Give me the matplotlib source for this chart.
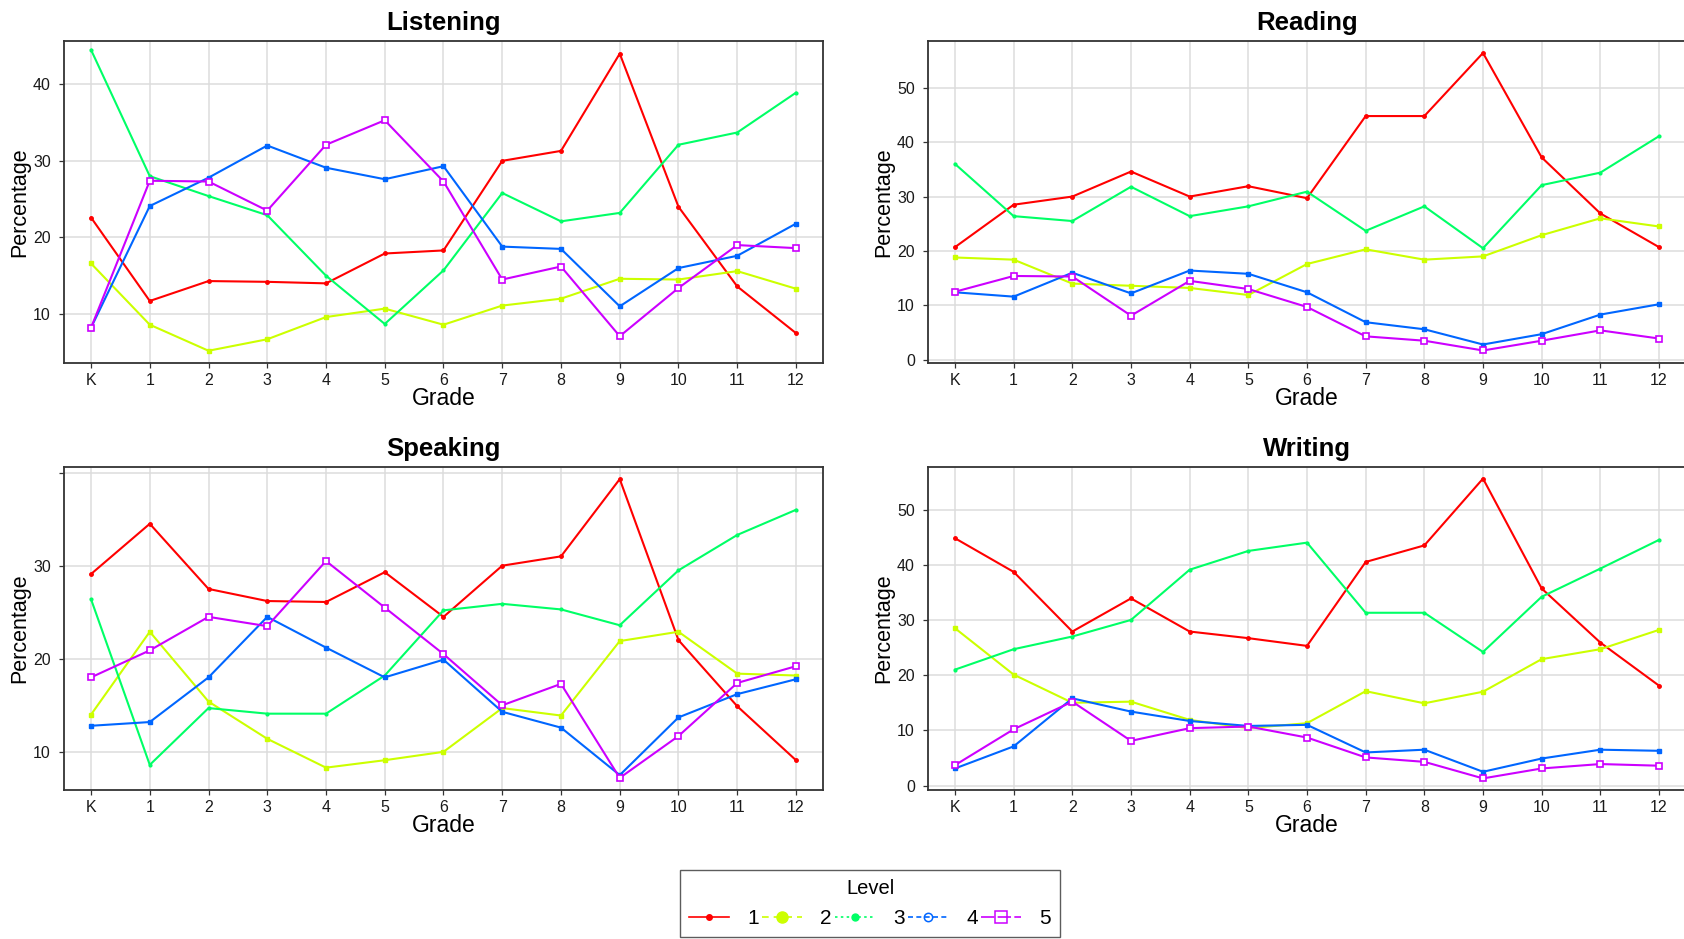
import matplotlib
matplotlib.use("Agg")
import matplotlib.pyplot as plt
from matplotlib.lines import Line2D

plt.rcParams['font.family'] = ['Liberation Sans', 'DejaVu Sans']

grades = ['K', '1', '2', '3', '4', '5', '6', '7', '8', '9', '10', '11', '12']
levels = ['1', '2', '3', '4', '5']
colors = ['#FF0000', '#CCFF00', '#00FF66', '#0066FF', '#CC00FF']

listening_l1 = [22.6, 11.7, 14.3, 14.2, 14.0, 17.9, 18.3, 30.0, 31.3, 44.0, 24.0, 13.6, 7.5]
listening_l2 = [16.6, 8.6, 5.2, 6.7, 9.6, 10.7, 8.6, 11.1, 12.0, 14.6, 14.5, 15.6, 13.3]
listening_l3 = [44.5, 28.0, 25.4, 22.9, 15.0, 8.7, 15.7, 25.8, 22.1, 23.2, 32.1, 33.7, 38.9]
listening_l4 = [8.2, 24.1, 27.8, 32.0, 29.1, 27.6, 29.3, 18.8, 18.5, 11.0, 16.0, 17.6, 21.8]
listening_l5 = [8.2, 27.4, 27.3, 23.5, 32.1, 35.3, 27.3, 14.5, 16.2, 7.1, 13.4, 19.0, 18.6]

reading_l1 = [20.7, 28.5, 30.0, 34.6, 30.0, 31.9, 29.7, 44.8, 44.8, 56.4, 37.2, 26.9, 20.7]
reading_l2 = [18.8, 18.4, 14.0, 13.6, 13.2, 11.9, 17.6, 20.3, 18.4, 19.0, 22.9, 26.0, 24.5]
reading_l3 = [36.0, 26.4, 25.5, 31.8, 26.4, 28.2, 30.9, 23.7, 28.2, 20.5, 32.1, 34.4, 41.1]
reading_l4 = [12.4, 11.6, 16.0, 12.2, 16.4, 15.8, 12.4, 6.9, 5.6, 2.8, 4.7, 8.3, 10.2]
reading_l5 = [12.5, 15.4, 15.3, 8.1, 14.5, 13.0, 9.7, 4.3, 3.5, 1.7, 3.5, 5.4, 3.9]

speaking_l1 = [29.1, 34.5, 27.5, 26.2, 26.1, 29.3, 24.5, 30.0, 31.0, 39.3, 22.0, 14.9, 9.1]
speaking_l2 = [14.0, 22.9, 15.4, 11.4, 8.3, 9.1, 10.0, 14.7, 13.9, 21.9, 22.9, 18.4, 18.2]
speaking_l3 = [26.4, 8.6, 14.7, 14.1, 14.1, 18.2, 25.2, 25.9, 25.3, 23.6, 29.5, 33.3, 36.0]
speaking_l4 = [12.8, 13.2, 18.0, 24.5, 21.2, 18.0, 19.9, 14.3, 12.6, 7.5, 13.7, 16.2, 17.8]
speaking_l5 = [18.0, 20.9, 24.5, 23.5, 30.5, 25.5, 20.5, 15.0, 17.3, 7.2, 11.7, 17.4, 19.2]

writing_l1 = [44.8, 38.7, 27.9, 33.9, 27.9, 26.7, 25.3, 40.5, 43.5, 55.6, 35.7, 25.9, 18.1]
writing_l2 = [28.5, 20.1, 15.0, 15.2, 11.9, 10.4, 11.3, 17.1, 14.9, 17.0, 22.9, 24.7, 28.2]
writing_l3 = [21.0, 24.7, 27.0, 30.0, 39.1, 42.5, 44.0, 31.3, 31.3, 24.2, 34.2, 39.3, 44.5]
writing_l4 = [3.1, 7.1, 15.8, 13.4, 11.7, 10.8, 11.0, 6.0, 6.5, 2.5, 4.9, 6.5, 6.3]
writing_l5 = [3.7, 10.2, 15.2, 8.1, 10.4, 10.7, 8.7, 5.1, 4.3, 1.3, 3.1, 3.9, 3.6]

panels = [
    ('Listening', [listening_l1, listening_l2, listening_l3, listening_l4, listening_l5],
     [10, 20, 30, 40], ['10', '20', '30', '40'], (3.6, 45.65)),
    ('Reading', [reading_l1, reading_l2, reading_l3, reading_l4, reading_l5],
     [0, 10, 20, 30, 40, 50], ['0', '10', '20', '30', '40', '50'], (-0.6, 58.6)),
    ('Speaking', [speaking_l1, speaking_l2, speaking_l3, speaking_l4, speaking_l5],
     [10, 20, 30, 40], ['10', '20', '30', ''], (5.9, 40.6)),
    ('Writing', [writing_l1, writing_l2, writing_l3, writing_l4, writing_l5],
     [0, 10, 20, 30, 40, 50], ['0', '10', '20', '30', '40', '50'], (-0.8, 57.7)),
]

W, H = 1684, 939
fig = plt.figure(figsize=(W / 100, H / 100), dpi=100)

# axes boxes in pixel coordinates (left, top, right, bottom)
boxes = [(64, 41, 823, 363), (928, 41, 1686, 363),
         (64, 467, 823, 790), (928, 467, 1686, 790)]

# in-plot marker styles
pmark = [dict(marker='.', ms=5, mfc=colors[0], mec=colors[0]),
         dict(marker='s', ms=3, mfc=colors[1], mec=colors[1]),
         dict(marker='.', ms=4, mfc=colors[2], mec=colors[2]),
         dict(marker='s', ms=3.5, mfc=colors[3], mec=colors[3]),
         dict(marker='s', ms=5, mfc='white', mec=colors[4], mew=1.2)]

x = list(range(len(grades)))
for (title, series, yt, ytl, ylim), (l, t, r, b) in zip(panels, boxes):
    ax = fig.add_axes([l / W, 1 - b / H, (r - l) / W, (b - t) / H])
    ax.grid(True, color='#DCDCDC', linewidth=1.1)
    ax.set_axisbelow(True)
    for s, c, pm in zip(series, colors, pmark):
        ax.plot(x, s, color=c, linewidth=1.5, **pm)
    ax.set_xlim(-0.46, 12.46)
    ax.set_ylim(*ylim)
    ax.set_xticks(x, grades)
    ax.set_yticks(yt, ytl)
    ax.tick_params(axis='both', labelsize=11.5, colors='#333333', length=3.5,
                   width=0.9, labelcolor='#1a1a1a')
    ax.tick_params(axis='y', pad=6)
    ax.tick_params(axis='x', pad=4)
    for sp in ax.spines.values():
        sp.set_color('#333333')
        sp.set_linewidth(1.3)
    ax.set_title(title, fontsize=18.5, fontweight='bold', pad=8)
    ax.set_xlabel('Grade', fontsize=16.5, labelpad=-1)
    ax.set_ylabel('Percentage', fontsize=15.5)
    ax.yaxis.set_label_coords(-0.045, 0.5)

# legend
lstyles = ['-', (0, (4, 3)), (0, (1.5, 2)), (0, (3, 2)), (0, (8, 2))]
lmarks = [dict(marker='o', ms=4, mfc=colors[0], mec=colors[0]),
          dict(marker='o', ms=8, mfc=colors[1], mec=colors[1]),
          dict(marker='o', ms=5, mfc=colors[2], mec=colors[2]),
          dict(marker='o', ms=6, mfc='none', mec=colors[3], mew=1.1),
          dict(marker='s', ms=8, mfc='none', mec=colors[4], mew=1.1)]
handles = [Line2D([], [], color=c, linestyle=ls, linewidth=1.2, **m)
           for c, ls, m in zip(colors, lstyles, lmarks)]
leg = fig.legend(handles, levels, title='Level', ncol=5, loc='upper center',
                 bbox_to_anchor=(870 / W, 1 - 870 / H), frameon=True, fancybox=False,
                 fontsize=15, title_fontsize=14.5, handlelength=1.9, handletextpad=0.9,
                 columnspacing=0.15, borderpad=0.45, borderaxespad=0)
leg.get_frame().set_edgecolor('#333333')
leg.get_frame().set_linewidth(1.0)

fig.savefig('out.png', dpi=100)
